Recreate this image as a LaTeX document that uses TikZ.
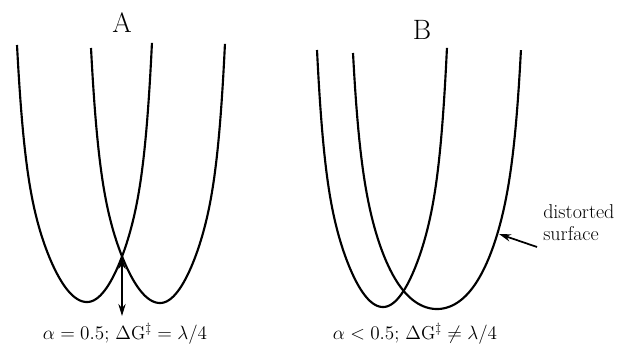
\documentclass[tikz,border=0pt]{standalone}
\usetikzlibrary{arrows.meta}
\begin{document}
\begin{tikzpicture}[x=0.75pt,y=-0.75pt,
  declare function={fa(\t)=0.6*\t^2+0.4*\t^10; fb(\t)=0.4*\t^2+0.3*\t^4+0.3*\t^14;},
  curve/.style={line width=1.6pt,line join=round},
  conn/.style={line width=1.3pt},
  tip/.style={-{Stealth[length=9pt,width=5.5pt]}},
  lbl/.style={font=\fontsize{14}{16}\selectfont,inner sep=0pt},
  side/.style={font=\fontsize{15}{17}\selectfont,inner sep=0pt},
  head/.style={font=\fontsize{21}{24}\selectfont,inner sep=0pt}]
\useasboundingbox (0,0) rectangle (620,346);
% panel A
\node[head,anchor=base] (tA) at (122,33) {A};
\draw[curve] plot[domain=1:0,samples=80,variable=\u] ({87-70*\u},{302-257*fa(\u)})
  -- plot[domain=0:1,samples=80,variable=\u] ({87+65*\u},{302-260*fa(\u)});
\draw[curve] plot[domain=1:0,samples=80,variable=\u] ({160-69*\u},{303-255*fa(\u)})
  -- plot[domain=0:1,samples=80,variable=\u] ({160+65*\u},{303-260*fa(\u)});
\coordinate (xA) at (122,257);
\coordinate (bA) at (122,316);
\draw[conn,{Stealth[length=9pt,width=5.5pt]}-{Stealth[length=9pt,width=5.5pt]}] (xA) -- (bA);
\node[lbl,anchor=base] (cA) at (125,339) {$\alpha = 0.5$; $\Delta$G$^{\ddagger} = \lambda/4$};
% panel B
\node[head,anchor=base] (tB) at (422,40) {B};
\draw[curve] plot[domain=1:0,samples=80,variable=\u] ({383-66*\u},{307-257*fa(\u)})
  -- plot[domain=0:1,samples=80,variable=\u] ({383+64*\u},{307-260*fa(\u)});
\draw[curve] plot[domain=1:0,samples=80,variable=\u] ({437-84*\u},{309-256*fb(\u)})
  -- plot[domain=0:1,samples=80,variable=\u] ({437+84*\u},{309-260*fb(\u)});
\node[lbl,anchor=base] (cB) at (415,339) {$\alpha < 0.5$; $\Delta$G$^{\ddagger} \neq \lambda/4$};
\node[side,align=left,anchor=base west] (ds) at (543,240) {distorted\\[-1pt]surface};
\coordinate (sB) at (499,234);
\coordinate (dsTail) at (537,247);
\draw[conn,tip] (dsTail) -- (sB);
\end{tikzpicture}
\end{document}
